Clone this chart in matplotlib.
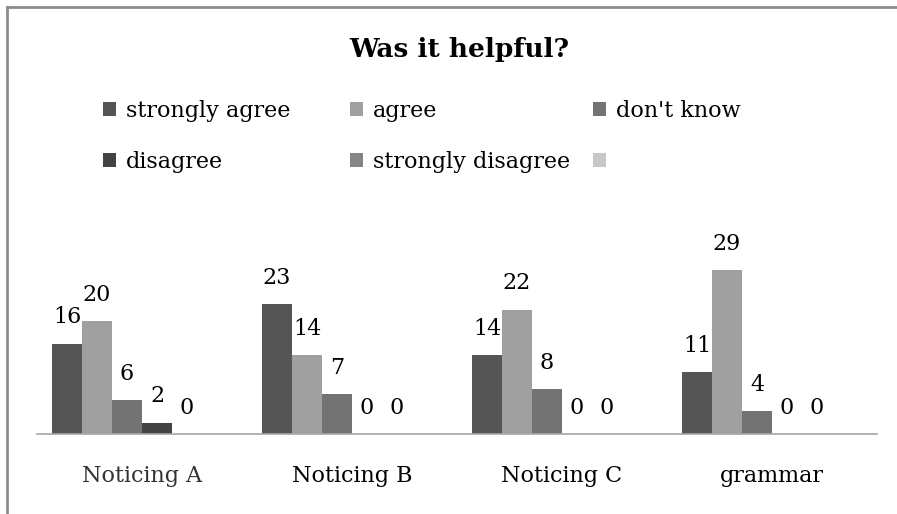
import matplotlib.pyplot as plt
from matplotlib.lines import Line2D
from matplotlib.patches import Patch
import numpy as np

# data
categories = ["Noticing A", "Noticing B", "Noticing C", "grammar"]
series = ["strongly agree", "agree", "don't know", "disagree", "strongly disagree", ""]
strongly_agree = [16, 23, 14, 11]
agree = [20, 14, 22, 29]
dont_know = [6, 7, 8, 4]
disagree = [2, 0, 0, 0]
strongly_disagree = [0, 0, 0, 0]
blank = [0, 0, 0, 0]

values = [strongly_agree, agree, dont_know, disagree, strongly_disagree, blank]
colors = ["#555555", "#a0a0a0", "#737373", "#434343", "#858585", "#c8c8c8"]

plt.rcParams["font.family"] = ["DejaVu Serif"]

W, H = 897, 514
fig = plt.figure(figsize=(W / 100, H / 100), dpi=100)
ax = fig.add_axes([37 / W, 80 / H, 840 / W, 197.75 / H])

x = np.arange(len(categories))
w = 1 / 7
for i, (vals, col) in enumerate(zip(values, colors)):
    bars = ax.bar(x + (i - 2.5) * w, vals, w, color=col, linewidth=0)
    if series[i]:
        for b, v in zip(bars, vals):
            ax.annotate(f"{v}", (b.get_x() + b.get_width() / 2, v),
                        xytext=(0, 11), textcoords="offset points",
                        ha="center", va="bottom", fontsize=16, color="black")

ax.set_xlim(-0.5, 3.5)
ax.set_ylim(0, 35)
ax.set_yticks([])
ax.set_xticks(x)
ax.set_xticklabels(categories, fontsize=16)
ax.get_xticklabels()[0].set_color("#333333")
ax.tick_params(axis="x", length=0, pad=22)
for s in ["top", "right", "left"]:
    ax.spines[s].set_visible(False)
ax.spines["bottom"].set_color("#a6a6a6")
ax.spines["bottom"].set_linewidth(1.2)

fig.text(459 / W, 1 - 50 / H, "Was it helpful?", ha="center", va="center",
         fontsize=19, fontweight="bold")

# legend laid out in three columns, rows read left to right
col_x = [103, 350, 593]
for c in range(3):
    idx = [c, c + 3]
    handles = [Patch(facecolor=colors[k], edgecolor="none") for k in idx]
    labels = [series[k] for k in idx]
    fig.legend(handles, labels, loc="upper left",
               bbox_to_anchor=(col_x[c] / W, 1 - 100 / H),
               frameon=False, fontsize=16, ncol=1, borderpad=0,
               borderaxespad=0, handlelength=0.6, handleheight=0.6,
               handletextpad=0.45, labelspacing=1.3)

# frame edges of the chart area
fig.add_artist(Line2D([7 / W, 7 / W], [0, 1 - 7 / H], color="#8c8c8c", lw=2,
                      transform=fig.transFigure))
fig.add_artist(Line2D([7 / W, 1], [1 - 7 / H, 1 - 7 / H], color="#8c8c8c", lw=2,
                      transform=fig.transFigure))

fig.savefig("out.png", dpi=100)
